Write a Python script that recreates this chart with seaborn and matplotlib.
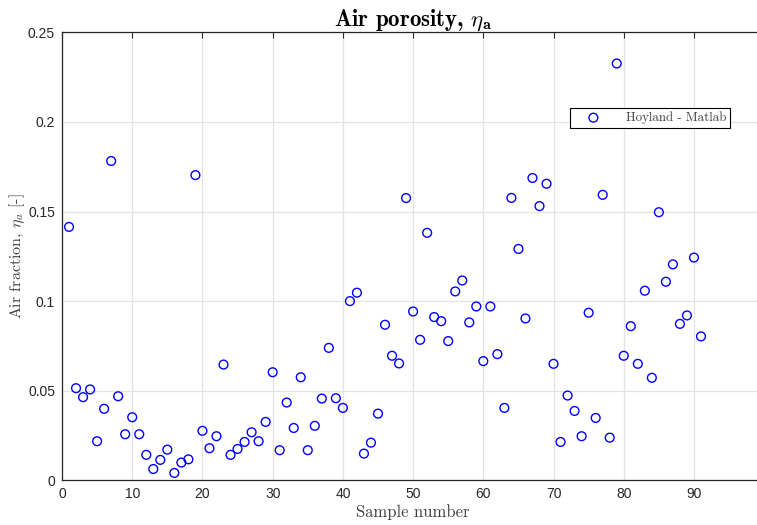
import pandas as pd
import numpy as np
import seaborn as sns
import matplotlib
matplotlib.use('Agg')
import matplotlib.pyplot as plt

# air fraction per sample
sample = list(range(1, 92))
air_fraction = [
    0.1414, 0.0514, 0.0464, 0.0507, 0.0218, 0.0399, 0.1782, 0.0469, 0.0257, 0.0352,
    0.0257, 0.0142, 0.0063, 0.0114, 0.0171, 0.0041, 0.0099, 0.0117, 0.1703, 0.0276,
    0.0179, 0.0246, 0.0646, 0.0142, 0.0175, 0.0214, 0.0268, 0.0218, 0.0326, 0.0603,
    0.0168, 0.0434, 0.0292, 0.0575, 0.0168, 0.0304, 0.0456, 0.0739, 0.0458, 0.0404,
    0.1000, 0.1047, 0.0149, 0.0210, 0.0372, 0.0868, 0.0695, 0.0652, 0.1575, 0.0942,
    0.0784, 0.1381, 0.0911, 0.0888, 0.0777, 0.1054, 0.1115, 0.0881, 0.0970, 0.0665,
    0.0970, 0.0704, 0.0404, 0.1576, 0.1291, 0.0903, 0.1687, 0.1530, 0.1655, 0.0650,
    0.0214, 0.0473, 0.0387, 0.0246, 0.0935, 0.0348, 0.1593, 0.0238, 0.2326, 0.0695,
    0.0860, 0.0650, 0.1058, 0.0572, 0.1496, 0.1108, 0.1205, 0.0873, 0.0920, 0.1243,
    0.0803,
]
x_ticks = [0, 10, 20, 30, 40, 50, 60, 70, 80, 90]
y_ticks = [0, 0.05, 0.1, 0.15, 0.2, 0.25]
y_tick_labels = ['0', '0.05', '0.1', '0.15', '0.2', '0.25']

df = pd.DataFrame({'Sample number': sample, 'Air fraction': air_fraction})

sns.set_style('whitegrid')
plt.rcParams['font.family'] = ['Liberation Sans', 'DejaVu Sans']
plt.rcParams['mathtext.fontset'] = 'cm'

dark = '#262626'
fig = plt.figure(figsize=(7.57, 5.25), dpi=100)
ax = fig.add_axes([62 / 757, 44.7 / 525, 702.2 / 757, 448 / 525])

sns.scatterplot(data=df, x='Sample number', y='Air fraction', ax=ax,
                marker='o', s=40, facecolor='none', edgecolor='#0000ff',
                linewidth=1.0, label='Hoyland - Matlab', zorder=3)

ax.set_xlim(0, 100)
ax.set_ylim(0, 0.25)
ax.set_xticks(x_ticks)
ax.set_yticks(y_ticks)
ax.set_yticklabels(y_tick_labels)
ax.grid(True, color='#e3e3e3', linewidth=0.9)
ax.tick_params(direction='in', length=4, width=0.8, colors=dark,
               labelsize=10, top=True, right=True, labelcolor=dark, pad=5)
for sp in ax.spines.values():
    sp.set_color(dark)
    sp.set_linewidth(0.9)
ax.spines['right'].set_visible(False)

ax.set_title(r'Air porosity, $\eta_\mathbf{a}$', family='cmb10', fontsize=16.5,
             color='black', pad=5)
ax.set_xlabel('Sample number', family='cmr10', fontsize=12, color='#404040', labelpad=2)
ax.set_ylabel(r'Air fraction, $\eta_a$ [-]', family='cmr10', fontsize=11.5,
              color='#404040', labelpad=1)

leg = ax.legend(loc='upper left', bbox_to_anchor=(0.7236, 0.832),
                prop={'family': 'cmr10', 'size': 9.3}, frameon=True,
                fancybox=False, edgecolor='black', framealpha=1,
                borderpad=0.3, handlelength=3.0, handletextpad=1.0,
                borderaxespad=0, labelcolor='#404040')
leg.get_frame().set_linewidth(0.8)

plt.savefig('out.png', dpi=100)
